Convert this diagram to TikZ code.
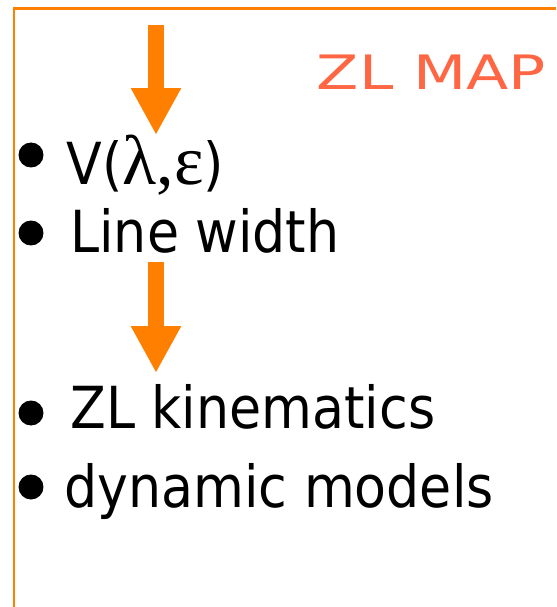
\documentclass[tikz,border=0pt]{standalone}
\usepackage{fontspec}
\setmainfont{DejaVu Sans}[FakeStretch=0.9]
\newfontfamily\mapfont{DejaVu Sans}[FakeStretch=1.3]
\newfontfamily\greekfont{Liberation Serif}
\usetikzlibrary{arrows.meta}
\definecolor{zlorange}{HTML}{FF7F00}
\definecolor{zlred}{HTML}{FF6644}

\begin{document}
\begin{tikzpicture}[x=0.02cm,y=-0.02cm,
		item/.style={anchor=base west,inner sep=0pt,font=\fontsize{33}{40}\selectfont},
		dot/.style={circle,fill=black,inner sep=0pt,minimum size=0.5cm},
		flow/.style={zlorange,line width=0.32cm,-{Triangle[width=0.94cm,length=0.94cm]}}]
		\useasboundingbox (0,0) rectangle (556,607);
		\draw[zlorange,line width=0.06cm] (14,607) -- (14,9) -- (556,9);
		\node[anchor=base east,inner sep=0pt,text=zlred,font=\mapfont\fontsize{27}{34}\selectfont] (title) at (546,90) {ZL MAP};

		\node[dot] (b1) at (31,155) {};
		\node[item] (t1) at (66,185) {V({\greekfont\fontsize{40}{40}\selectfont λ,ε})};
		\node[dot] (b2) at (31,233) {};
		\node[item] (t2) at (70,253) {Line width};
		\node[dot] (b3) at (31,413) {};
		\node[item] (t3) at (70,428) {ZL kinematics};
		\node[dot] (b4) at (31,487) {};
		\node[item] (t4) at (64,507) {dynamic models};

		\coordinate (a1) at (156,25);
		\coordinate (a2) at (156,135);
		\coordinate (a3) at (156,262);
		\coordinate (a4) at (156,373);
		\draw[flow] (a1) -- (a2);
		\draw[flow] (a3) -- (a4);
	\end{tikzpicture}
\end{document}
